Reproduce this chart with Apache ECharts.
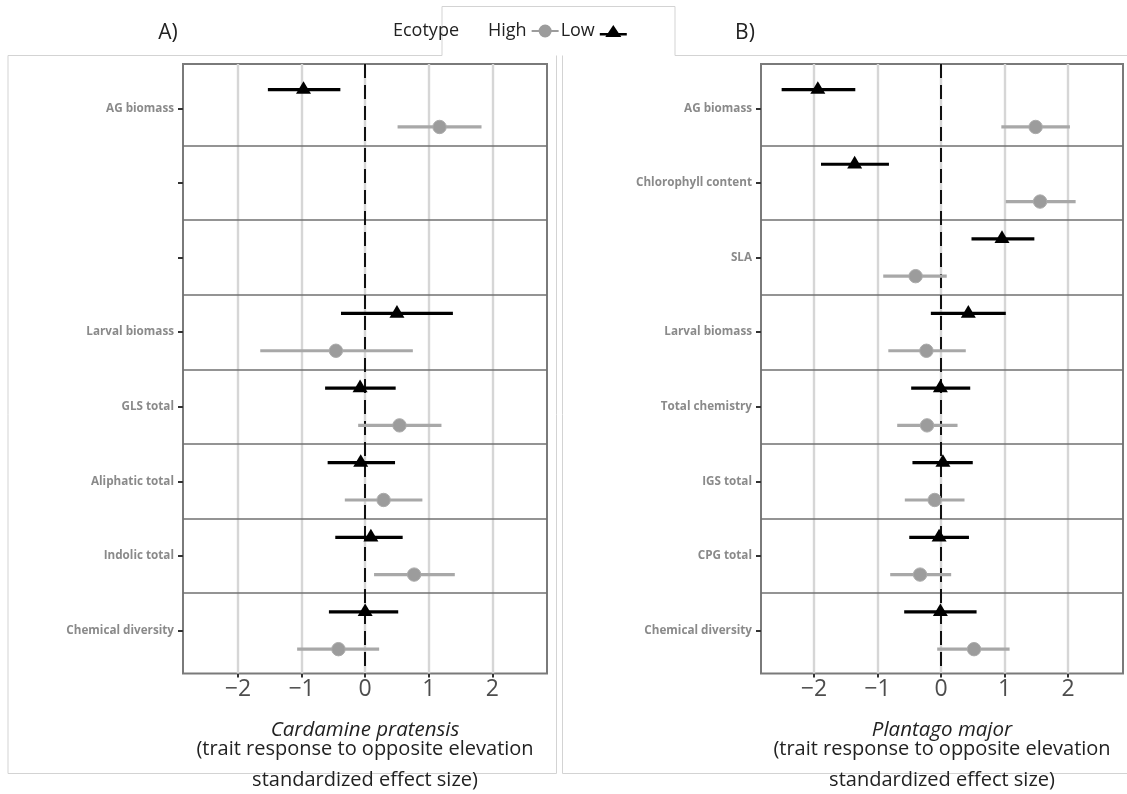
<!DOCTYPE html>
<html><head><meta charset="utf-8">
<script src="https://cdn.jsdelivr.net/npm/echarts@6/dist/echarts.min.js"></script>
<style>html,body{margin:0;padding:0;background:#fff}#c{width:1127px;height:794px}</style>
</head><body><div id="c"></div>
<script>
// ---------- data ----------
const xTicks = [-2, -1, 0, 1, 2];
const rowIdx = [0, 1, 2, 3, 4, 5, 6, 7];

const leftCategories = ['AG biomass', '', '', 'Larval biomass', 'GLS total', 'Aliphatic total', 'Indolic total', 'Chemical diversity'];
const leftLowMean  = [-0.97, null, null, 0.50, -0.08, -0.07, 0.09, 0.00];
const leftLowLo    = [-1.53, null, null, -0.38, -0.63, -0.59, -0.47, -0.57];
const leftLowHi    = [-0.39, null, null, 1.38, 0.48, 0.47, 0.59, 0.52];
const leftHighMean = [1.17, null, null, -0.46, 0.54, 0.29, 0.77, -0.42];
const leftHighLo   = [0.51, null, null, -1.65, -0.11, -0.32, 0.14, -1.07];
const leftHighHi   = [1.83, null, null, 0.75, 1.20, 0.90, 1.41, 0.22];

const rightCategories = ['AG biomass', 'Chlorophyll content', 'SLA', 'Larval biomass', 'Total chemistry', 'IGS total', 'CPG total', 'Chemical diversity'];
const rightLowMean  = [-1.94, -1.36, 0.96, 0.43, -0.01, 0.03, -0.03, -0.01];
const rightLowLo    = [-2.51, -1.89, 0.48, -0.16, -0.47, -0.45, -0.50, -0.58];
const rightLowHi    = [-1.35, -0.82, 1.47, 1.02, 0.46, 0.50, 0.44, 0.56];
const rightHighMean = [1.49, 1.56, -0.40, -0.23, -0.22, -0.10, -0.33, 0.52];
const rightHighLo   = [0.95, 1.02, -0.91, -0.83, -0.69, -0.57, -0.80, -0.06];
const rightHighHi   = [2.03, 2.12, 0.09, 0.39, 0.26, 0.37, 0.16, 1.08];

const seriesNames = ['High', 'Low'];
const panelLetters = ['A)', 'B)'];
const panelSpecies = ['Cardamine pratensis', 'Plantago major'];
const axisTitleLine2 = '(trait response to opposite elevation';
const axisTitleLine3 = 'standardized effect size)';
const legendTitle = 'Ecotype';
// --------------------------

const FONT = '"Open Sans", "Noto Sans", sans-serif';

function rows(means, los, his) {
  const out = [];
  means.forEach((m, i) => { if (m !== null) out.push([rowIdx[i], los[i], m, his[i]]); });
  return out;
}

function makeRender(offset, kind) {
  return function (params, api) {
    const yv = api.value(0) + offset;
    const a = api.coord([api.value(1), yv]);
    const b = api.coord([api.value(3), yv]);
    const m = api.coord([api.value(2), yv]);
    const children = [];
    if (kind === 'circle') {
      children.push({type: 'line', shape: {x1: a[0], y1: a[1], x2: b[0], y2: b[1]},
        style: {stroke: '#a8a8a8', lineWidth: 3.2}});
      children.push({type: 'circle', shape: {cx: m[0], cy: m[1], r: 6.7},
        style: {fill: '#9c9c9c', stroke: '#ababab', lineWidth: 1}});
    } else {
      children.push({type: 'line', shape: {x1: a[0], y1: a[1], x2: b[0], y2: b[1]},
        style: {stroke: '#000', lineWidth: 3.2}});
      children.push({type: 'polygon', shape: {points: [[m[0], m[1] - 8.5], [m[0] - 7.5, m[1] + 4.2], [m[0] + 7.5, m[1] + 4.2]]},
        style: {fill: '#000'}});
    }
    return {type: 'group', children};
  };
}

function guideSeries(i) {
  const data = [];
  xTicks.forEach(v => data.push({xAxis: v, lineStyle: {color: '#d6d6d6', width: 2.4, type: 'solid'}}));
  rowIdx.slice(0, 7).forEach(k => data.push({yAxis: k + 0.5, lineStyle: {color: '#707070', width: 1.6, type: 'solid'}}));
  data.push({xAxis: 0, lineStyle: {color: '#111', width: 2, type: [14, 7]}});
  return {
    type: 'line', xAxisIndex: i, yAxisIndex: i, data: [], silent: true, z: 1,
    markLine: {symbol: 'none', silent: true, animation: false, label: {show: false},
      emphasis: {disabled: true}, data}
  };
}

function customSeries(i, name, data, offset, kind) {
  return {
    type: 'custom', name, xAxisIndex: i, yAxisIndex: i, z: 5,
    renderItem: makeRender(offset, kind), encode: {x: [1, 2, 3], y: 0}, data, silent: true
  };
}

function xAxis(i, min, max) {
  return {
    type: 'value', gridIndex: i, min, max,
    axisLine: {show: false, onZero: false},
    splitLine: {show: false},
    axisTick: {show: true, customValues: xTicks, length: 4, lineStyle: {color: '#333', width: 2}},
    axisLabel: {customValues: xTicks, fontFamily: FONT, fontSize: 23, color: '#4d4d4d', margin: 4,
      formatter: v => (v < 0 ? '\u2212' + Math.abs(v) : String(v))}
  };
}

function yAxis(i, cats) {
  return {
    type: 'value', gridIndex: i, inverse: true, min: -0.594, max: 7.576,
    axisLine: {show: false, onZero: false},
    splitLine: {show: false},
    axisTick: {show: true, customValues: rowIdx, length: 5, lineStyle: {color: '#333', width: 2}},
    axisLabel: {customValues: rowIdx, fontFamily: FONT, fontWeight: 'bold', fontSize: 11.7, color: '#8a8a8a', margin: 9,
      formatter: v => cats[Math.round(v)] || ''}
  };
}

const gray = '#d3d3d3';
function poly(points) {
  return {type: 'polyline', silent: true, shape: {points}, style: {stroke: gray, lineWidth: 1, fill: null}};
}
function txt(x, y, text, size, style) {
  return {type: 'text', x, y, silent: true,
    style: Object.assign({text, font: size + 'px ' + FONT, fill: '#222', textAlign: 'center', textVerticalAlign: 'middle'}, style || {})};
}

const option = {
  animation: false,
  backgroundColor: '#fff',
  grid: [
    {left: 183, top: 64, width: 364, height: 609.5, show: true, borderColor: '#7a7a7a', borderWidth: 2, backgroundColor: '#fff'},
    {left: 761, top: 64, width: 362, height: 609.5, show: true, borderColor: '#7a7a7a', borderWidth: 2, backgroundColor: '#fff'}
  ],
  xAxis: [xAxis(0, -2.865, 2.86), xAxis(1, -2.835, 2.866)],
  yAxis: [yAxis(0, leftCategories), yAxis(1, rightCategories)],
  legend: {
    left: 488, top: 22, padding: 0, align: 'right', itemGap: 2, selectedMode: false,
    itemWidth: 27, itemHeight: 13,
    textStyle: {fontFamily: FONT, fontSize: 18, color: '#222'},
    data: [
      {name: seriesNames[0], icon: 'path://M0,5.6 L27,5.6 L27,7.6 L0,7.6 Z M7,6.5 A6.5,6.5 0 1 1 20,6.5 A6.5,6.5 0 1 1 7,6.5 Z',
        itemStyle: {color: '#9c9c9c'}},
      {name: seriesNames[1], icon: 'path://M0,8 L27,8 L27,10.5 L0,10.5 Z M13.5,0 L21.5,12 L5.5,12 Z',
        itemStyle: {color: '#000'}}
    ]
  },
  series: [
    guideSeries(0), guideSeries(1),
    customSeries(0, seriesNames[0], rows(leftHighMean, leftHighLo, leftHighHi), 0.25, 'circle'),
    customSeries(0, seriesNames[1], rows(leftLowMean, leftLowLo, leftLowHi), -0.25, 'triangle'),
    customSeries(1, seriesNames[0], rows(rightHighMean, rightHighLo, rightHighHi), 0.25, 'circle'),
    customSeries(1, seriesNames[1], rows(rightLowMean, rightLowLo, rightLowHi), -0.25, 'triangle')
  ],
  graphic: [
    poly([[8, 773.5], [8, 55.5], [442, 55.5], [442, 6.5], [675, 6.5], [675, 55.5], [1127, 55.5]]),
    poly([[556.5, 55.5], [556.5, 773.5], [8, 773.5]]),
    poly([[562.5, 55.5], [562.5, 773.5], [1127, 773.5]]),
    txt(168, 33, panelLetters[0], 21),
    txt(745, 33, panelLetters[1], 21),
    txt(426, 31, legendTitle, 18),
    txt(365, 730, panelSpecies[0], 20.5, {font: 'italic 20.5px ' + FONT}),
    txt(365, 749, axisTitleLine2, 20),
    txt(365, 780, axisTitleLine3, 20),
    txt(942, 730, panelSpecies[1], 20.5, {font: 'italic 20.5px ' + FONT}),
    txt(942, 749, axisTitleLine2, 20),
    txt(942, 780, axisTitleLine3, 20)
  ]
};

const chart = echarts.init(document.getElementById('c'), null, {renderer: 'canvas'});
chart.setOption(option);
</script>
</body></html>
